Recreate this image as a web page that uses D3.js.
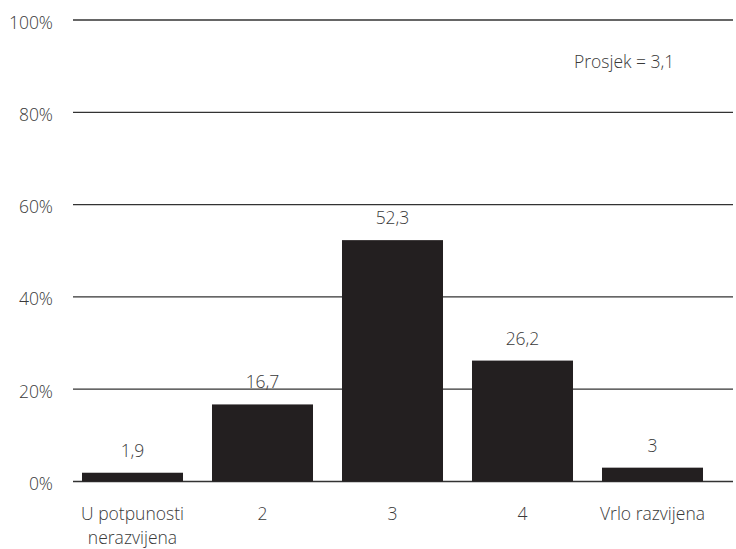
<!DOCTYPE html>
<html><head><meta charset="utf-8">
<script src="https://cdn.jsdelivr.net/npm/d3@7"></script>
<style>
body{margin:0;background:#fff;}
text{font-family:"Open Sans",sans-serif;font-weight:300;fill:#3a3a3a;}
</style></head>
<body><svg id="c" width="736" height="549"></svg>
<script>
const categories = [["U potpunosti","nerazvijena"],["2"],["3"],["4"],["Vrlo razvijena"]];
const values = [1.9, 16.7, 52.3, 26.2, 3];
const valueLabels = ["1,9","16,7","52,3","26,2","3"];
const yTicks = [0,20,40,60,80,100];
const note = "Prosjek = 3,1";

const svg = d3.select("#c");
const y = d3.scaleLinear().domain([0,100]).range([481.5,20]);
const x = d3.scaleBand().domain(d3.range(values.length)).range([67.5,717.5]).paddingInner(0.223).paddingOuter(0.1115);

// gridlines
svg.append("g").selectAll("line").data(yTicks).join("line")
  .attr("x1",73).attr("x2",733)
  .attr("y1",d=>y(d)).attr("y2",d=>y(d))
  .attr("stroke","#333").attr("stroke-width",1.3);

// y labels
svg.append("g").selectAll("text").data(yTicks).join("text")
  .attr("x",53).attr("y",d=>y(d)+8.5)
  .attr("text-anchor","end").attr("font-size",17.5)
  .text(d=>d+"%");

// bars
svg.append("g").selectAll("rect").data(values).join("rect")
  .attr("x",(d,i)=>x(i)).attr("width",x.bandwidth())
  .attr("y",d=>y(d)).attr("height",d=>y(0)-y(d))
  .attr("fill","#231f20");

// value labels
svg.append("g").selectAll("text").data(values).join("text")
  .attr("x",(d,i)=>x(i)+x.bandwidth()/2).attr("y",d=>y(d)-16)
  .attr("text-anchor","middle").attr("font-size",17.5)
  .text((d,i)=>valueLabels[i]);

// category labels
const cat = svg.append("g").selectAll("text").data(categories).join("text")
  .attr("x",(d,i)=>x(i)+x.bandwidth()/2).attr("y",520)
  .attr("text-anchor","middle").attr("font-size",17.5);
cat.each(function(d,i){
  d3.select(this).selectAll("tspan").data(d).join("tspan")
    .attr("x",x(i)+x.bandwidth()/2).attr("dy",(t,j)=>j===0?0:24).text(t=>t);
});

svg.append("text").attr("x",574).attr("y",68).attr("font-size",17.5).text(note);
</script></body></html>
